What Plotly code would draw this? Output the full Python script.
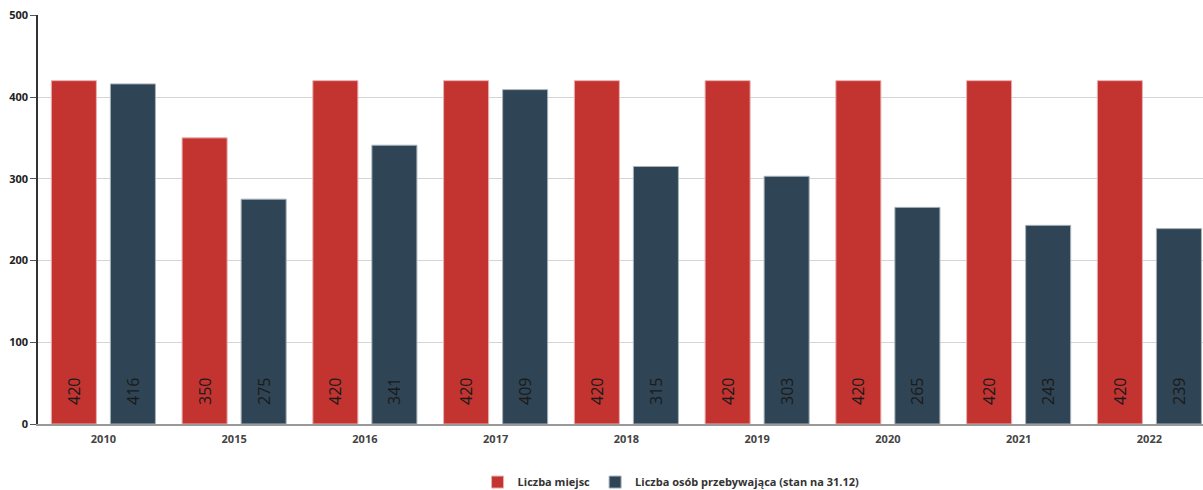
import plotly.graph_objects as go

years = ["2010", "2015", "2016", "2017", "2018", "2019", "2020", "2021", "2022"]
miejsca = [420, 350, 420, 420, 420, 420, 420, 420, 420]
osoby = [416, 275, 341, 409, 315, 303, 265, 243, 239]

name1 = "Liczba miejsc"
name2 = "Liczba osób przebywająca (stan na 31.12)"

PAD = "\u2002\u2002"

fig = go.Figure()
fig.add_trace(go.Bar(
    x=years, y=miejsca, name=name1,
    marker=dict(color="#c33431", line=dict(color="#e8b0ae", width=1)),
    text=[PAD + str(v) for v in miejsca], textposition="inside", insidetextanchor="start",
    textangle=-90, textfont=dict(size=16, color="#1a1a1a", family="Open Sans"),
))
fig.add_trace(go.Bar(
    x=years, y=osoby, name=name2,
    marker=dict(color="#2f4454", line=dict(color="#a8b2ba", width=1)),
    text=[PAD + str(v) for v in osoby], textposition="inside", insidetextanchor="start",
    textangle=-90, textfont=dict(size=16, color="#1a1a1a", family="Open Sans"),
))

fig.update_layout(
    width=1203, height=497,
    margin=dict(l=38, r=0, t=15, b=67),
    paper_bgcolor="white", plot_bgcolor="white",
    barmode="group", bargap=0.097, bargroupgap=0.237,
    font=dict(family="Open Sans", color="#333333"),
    legend=dict(orientation="h", x=0.5434, xanchor="center", y=-0.142, yanchor="middle",
                font=dict(size=11, color="#333333", family="Open Sans", weight="bold"),
                traceorder="normal"),
    xaxis=dict(
        range=[-0.5, 8.41], showgrid=False, automargin=False,
        showline=True, linecolor="#999999", linewidth=1.5,
        ticks="", ticklabelstandoff=4,
        tickfont=dict(size=11, color="#444444", family="Open Sans", weight="bold"),
    ),
    yaxis=dict(
        range=[0, 500.3], tickvals=[0, 100, 200, 300, 400, 500], automargin=False,
        showgrid=True, gridcolor="#d4d4d4", gridwidth=1,
        showline=True, linecolor="#333333", linewidth=1.5,
        ticks="outside", ticklen=6, tickcolor="#555555",
        tickfont=dict(size=11, color="#222222", family="Open Sans", weight="bold"),
        zeroline=False,
    ),
)

post = (
    "document.documentElement.style.margin='0';"
    "document.documentElement.style.overflow='hidden';"
    "document.body.style.margin='0';"
    "document.body.style.overflow='hidden';"
    "var gd=document.getElementById('{plot_id}');"
    "gd.style.position='fixed';gd.style.top='0';gd.style.left='0';"
)

fig.write_html("out.html", config={"displayModeBar": False}, post_script=post)
